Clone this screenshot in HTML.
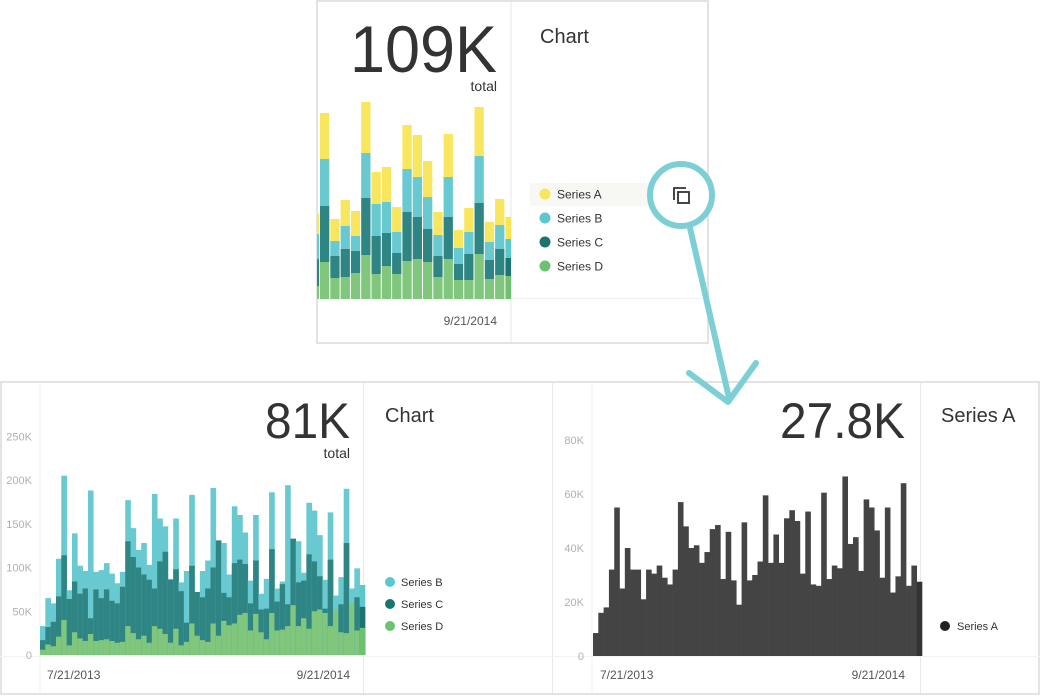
<!DOCTYPE html>
<html><head><meta charset="utf-8"><style>
html,body{margin:0;padding:0;background:#fff;width:1040px;height:697px;overflow:hidden}
svg{display:block;font-family:"Liberation Sans",sans-serif}
</style></head><body>
<svg id="s" width="1040" height="697" viewBox="0 0 1040 697">
  <!-- top card -->
  <rect x="317" y="1" width="391" height="342" fill="#fff" stroke="#e3e3e3" stroke-width="2"/>
  <line x1="511" y1="1" x2="511" y2="343" stroke="#e6e6e6"/>
  <line x1="511" y1="298.5" x2="708" y2="298.5" stroke="#f0f0f0"/>
  <g id="topBars"></g>
  <text x="497" y="72" text-anchor="end" font-size="66" fill="#333" textLength="147" lengthAdjust="spacingAndGlyphs">109K</text>
  <text x="497" y="91" text-anchor="end" font-size="14" fill="#333">total</text>
  <text x="497" y="325" text-anchor="end" font-size="12" fill="#555">9/21/2014</text>
  <text x="540" y="43" font-size="20" fill="#333">Chart</text>
  <rect x="530" y="183" width="125" height="23" fill="#f7f7f4"/>
  <g>
    <circle cx="545" cy="194" r="5.5" fill="#f9e65f"/><text x="557" y="198.5" font-size="12" fill="#333">Series A</text>
    <circle cx="545" cy="218" r="5.5" fill="#5bc8ce"/><text x="557" y="222.5" font-size="12" fill="#333">Series B</text>
    <circle cx="545" cy="242" r="5.5" fill="#1a7571"/><text x="557" y="246.5" font-size="12" fill="#333">Series C</text>
    <circle cx="545" cy="266" r="5.5" fill="#6cc26f"/><text x="557" y="270.5" font-size="12" fill="#333">Series D</text>
  </g>

  <!-- bottom container -->
  <rect x="1" y="382" width="1038" height="312" fill="#fff" stroke="#e3e3e3" stroke-width="2"/>
  <line x1="40" y1="383" x2="40" y2="693" stroke="#f0f0f0"/>
  <line x1="363.5" y1="383" x2="363.5" y2="693" stroke="#e8e8e8"/>
  <line x1="552.5" y1="383" x2="552.5" y2="693" stroke="#e8e8e8"/>
  <line x1="592" y1="383" x2="592" y2="693" stroke="#f0f0f0"/>
  <line x1="920.5" y1="383" x2="920.5" y2="693" stroke="#e8e8e8"/>
  <line x1="0" y1="656.5" x2="1040" y2="656.5" stroke="#f3f3f3"/>
  <g id="leftAxis"></g>
  <g id="leftBars"></g>
  <text x="350" y="438" text-anchor="end" font-size="50" fill="#333" textLength="85" lengthAdjust="spacingAndGlyphs">81K</text>
  <text x="350" y="458" text-anchor="end" font-size="14" fill="#333">total</text>
  <text x="47" y="679" font-size="12" fill="#555">7/21/2013</text>
  <text x="350" y="679" text-anchor="end" font-size="12" fill="#555">9/21/2014</text>
  <text x="385" y="422" font-size="20" fill="#333">Chart</text>
  <g>
    <circle cx="390" cy="582" r="5" fill="#5bc8ce"/><text x="401" y="586" font-size="11" fill="#333">Series B</text>
    <circle cx="390" cy="604" r="5" fill="#1a7571"/><text x="401" y="608" font-size="11" fill="#333">Series C</text>
    <circle cx="390" cy="626" r="5" fill="#6cc26f"/><text x="401" y="630" font-size="11" fill="#333">Series D</text>
  </g>
  <g id="rightAxis"></g>
  <g id="rightBars"></g>
  <text x="905" y="438" text-anchor="end" font-size="50" fill="#333" textLength="125" lengthAdjust="spacingAndGlyphs">27.8K</text>
  <text x="600" y="679" font-size="12" fill="#555">7/21/2013</text>
  <text x="905" y="679" text-anchor="end" font-size="12" fill="#555">9/21/2014</text>
  <text x="941" y="422" font-size="20" fill="#333">Series A</text>
  <circle cx="945" cy="626" r="5" fill="#222"/><text x="957" y="630" font-size="11" fill="#333">Series A</text>

  <!-- annotation -->
  <g>
    <circle cx="681" cy="195" r="31" fill="#fff" stroke="#7dcfd6" stroke-width="6"/>
    <g fill="none" stroke="#333" stroke-width="1.8">
      <path d="M674 200 V188 H686"/><rect x="678" y="192" width="11" height="11"/>
    </g>
    <line x1="690" y1="228" x2="729" y2="398" stroke="#7dcfd6" stroke-width="6" stroke-linecap="round"/>
    <polyline points="689,373 728,402 756,363" fill="none" stroke="#7dcfd6" stroke-width="6" stroke-linecap="round" stroke-linejoin="round"/>
  </g>
</svg>
<script>
// Top chart (K)
const topD=[13,37,21,22,26,44,25,33,25,38,40,37,22,40,19,19,45,20,24,23];
const topC=[27,56,22,28,22,57,38,33,21,49,42,33,21,42,16,26,51,19,26,18];
const topB=[25,47,15,23,15,45,32,31,21,43,40,32,21,40,16,22,47,18,24,19];
const topA=[20,46,22,26,25,51,32,35,25,44,42,36,23,43,18,24,49,20,26,22];
// Bottom-left cumulative tops (K)
const totalD=[6,12,10,21,40,11,26,19,16,24,16,17,18,16,14,15,33,25,18,22,14,33,30,24,14,30,11,15,36,22,17,15,36,22,39,34,36,46,48,28,47,26,18,48,28,29,33,57,33,42,30,50,52,48,33,52,26,25,60,28,31];
const totalCD=[17,32,38,67,114,64,84,70,76,42,75,65,75,62,59,78,130,112,100,92,86,76,107,118,86,98,73,37,102,72,66,76,100,131,71,66,105,109,104,59,108,52,53,121,61,81,58,133,83,85,115,107,90,53,109,46,58,128,51,66,55];
const totalBCD=[33,65,59,110,205,74,139,102,96,188,95,97,105,93,82,95,177,145,120,128,103,184,156,147,87,156,83,96,183,72,96,108,191,124,128,92,170,160,140,85,160,70,87,186,76,84,194,126,130,94,174,165,137,86,163,68,89,190,76,99,80];
const leftTicks=[0,50,100,150,200,250];
const leftTickLabels=["0","50K","100K","150K","200K","250K"];
// Bottom-right Series A (K)
const seriesA=[8.5,16,18,32,55,25,40,32,32,21,32,30.5,33.5,29,26.5,32,57,48,40,41,34.5,38.5,47,48.5,28.5,46,28,19,49.5,28,30,35,59.5,34.5,45,34.5,51,54,50,30.5,53.5,26.5,26,60.5,28.5,33.5,32.5,66.5,41.5,44,31.5,58,55,46.5,29,55,23.5,29.5,64,26,33.5,27.5];
const rightTicks=[0,20,40,60,80];
const rightTickLabels=["0","20K","40K","60K","80K"];

const NS="http://www.w3.org/2000/svg";
function mk(parent,tag,at){const e=document.createElementNS(NS,tag);for(const k in at)e.setAttribute(k,at[k]);parent.appendChild(e);return e;}

// top
(function(){
  const g=document.getElementById('topBars');
  const x0=309.7,pitch=10.3,base=299,k=1;
  const y=v=>base-v*k;
  const clip=mk(g,'clipPath',{id:'tc'});mk(clip,'rect',{x:317,y:0,width:194,height:343});
  const inner=mk(g,'g',{'clip-path':'url(#tc)'});
  const cols=["#80c77d","#2f8584","#68c9d1","#f9e65f"];
  for(let i=0;i<topD.length;i++){
    const vals=[topD[i],topC[i],topB[i],topA[i]];let acc=0;
    const last=i===topD.length-1;
    const lc=["#70c073","#1b7672","#5bc8ce","#f9e651"];
    vals.forEach((v,j)=>{
      const r=mk(inner,'rect',{x:x0+i*pitch,y:y(acc+v),width:pitch-1,height:v*k,fill:last?lc[j]:cols[j]});
      
      
      acc+=v;
    });
  }
})();

// bottom-left
(function(){
  const g=document.getElementById('leftBars'),ax=document.getElementById('leftAxis');
  const base=655,sc=175/200,xL=40,xR=365,n=totalBCD.length,p=(xR-xL)/n;
  const y=v=>base-v*sc;
  leftTicks.forEach((t,i)=>{
    const tx=mk(ax,'text',{x:32,y:y(t)+4,'text-anchor':'end','font-size':11,fill:'#b0b0b0'});
    tx.textContent=leftTickLabels[i];
    
    
  });
  for(let i=0;i<n;i++){
    const last=i===n-1;
    const segs=[[totalBCD[i],last?"#5bc8ce":"#68c9d1"],[totalCD[i],last?"#1a7571":"#2f8584"],[totalD[i],last?"#6cc26f":"#80c77d"]];
    segs.forEach(s=>{
      const r=mk(g,'rect',{x:xL+i*p,y:y(s[0]),width:p+0.3,height:s[0]*sc,fill:s[1]});
      
      
    });
  }
})();

// bottom-right
(function(){
  const g=document.getElementById('rightBars'),ax=document.getElementById('rightAxis');
  const base=656,sc=54/20,xL=593,xR=922,n=seriesA.length,p=(xR-xL)/n;
  const y=v=>base-v*sc;
  rightTicks.forEach((t,i)=>{
    const tx=mk(ax,'text',{x:584,y:y(t)+4,'text-anchor':'end','font-size':11,fill:'#b0b0b0'});
    tx.textContent=rightTickLabels[i];
    
    
  });
  for(let i=0;i<n;i++){
    const r=mk(g,'rect',{x:xL+i*p,y:y(seriesA[i]),width:p+0.3,height:seriesA[i]*sc,fill:i===n-1?"#333":"#444"});
    
    
  }
})();
</script>
</body></html>
